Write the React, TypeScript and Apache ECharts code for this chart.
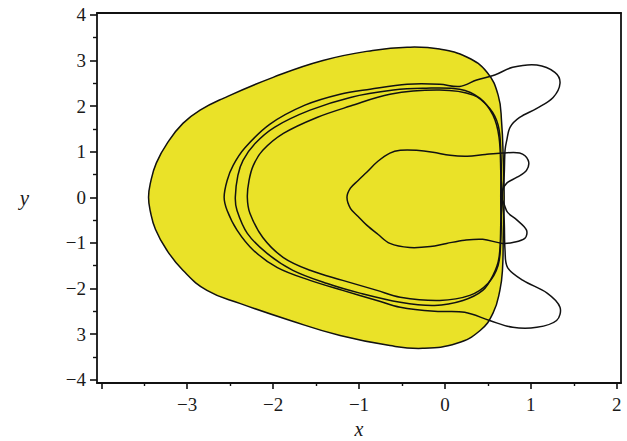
import React, { useEffect, useRef } from "react";
import * as echarts from "echarts";

// ---- axis ticks / labels ----
const xMajorTicks = [-4, -3, -2, -1, 0, 1, 2];
const xMinorTicks = [-3.5, -2.5, -1.5, -0.5, 0.5, 1.5];
const xTickLabels = [-3, -2, -1, 0, 1, 2];
const yMajorTicks = [-4, -3, -2, -1, 0, 1, 2, 3, 4];
const yMinorTicks = [-3.5, -2.5, -1.5, -0.5, 0.5, 1.5, 2.5, 3.5];
const yTickTexts = ["−4", "3", "−2", "−1", "0", "1", "2", "3", "4"];

// ---- yellow region boundary (closed) ----
const fillBoundary: number[][] = [
  [-3.45, 0], [-3.43, 0.3], [-3.36, 0.75], [-3.22, 1.22], [-3.05, 1.62], [-2.85, 1.91],
  [-2.58, 2.17], [-2.0, 2.63], [-1.42, 3.0], [-0.84, 3.22], [-0.44, 3.29], [-0.06, 3.25],
  [0.26, 3.07], [0.49, 2.74], [0.62, 2.24], [0.66, 1.65], [0.68, 0.8], [0.69, 0],
  [0.68, -0.8], [0.67, -1.6], [0.64, -2.04], [0.56, -2.54], [0.41, -2.92], [0.14, -3.2],
  [-0.26, -3.31], [-0.64, -3.25], [-1.22, -3.03], [-1.8, -2.7], [-2.38, -2.33],
  [-2.77, -2.04], [-3.05, -1.6], [-3.24, -1.15], [-3.37, -0.7], [-3.43, -0.3],
];

// ---- black curves (closed loops) ----
const loopOuter: number[][] = [
  [-2.57, 0], [-2.535, 0.37], [-2.465, 0.7], [-2.33, 1.08], [-2.04, 1.6], [-1.63, 2.02],
  [-1.22, 2.26], [-0.87, 2.37], [-0.44, 2.48], [-0.06, 2.48], [0.17, 2.43], [0.37, 2.57],
  [0.58, 2.68], [0.79, 2.85], [1.07, 2.9], [1.28, 2.74], [1.34, 2.5], [1.26, 2.19],
  [1.07, 1.95], [0.87, 1.75], [0.76, 1.54], [0.72, 1.25], [0.7, 1.03], [0.69, 0.48],
  [0.67, 0], [0.69, -0.5], [0.7, -1.16], [0.73, -1.54], [0.91, -1.82], [1.19, -2.1],
  [1.34, -2.41], [1.3, -2.7], [1.07, -2.85], [0.79, -2.85], [0.52, -2.7], [0.23, -2.52],
  [-0.12, -2.5], [-0.52, -2.41], [-0.79, -2.26], [-1.19, -2.04], [-1.57, -1.82],
  [-1.95, -1.54], [-2.23, -1.16], [-2.42, -0.72], [-2.535, -0.29],
];
const loopMiddle: number[][] = [
  [-2.44, 0], [-2.41, 0.48], [-2.35, 0.81], [-2.21, 1.18], [-1.98, 1.54], [-1.57, 1.91],
  [-1.1, 2.19], [-0.6, 2.35], [-0.26, 2.39], [0.17, 2.37], [0.41, 2.17], [0.56, 1.8],
  [0.63, 1.32], [0.65, 0.59], [0.65, 0], [0.65, -0.61], [0.63, -1.32], [0.56, -1.71],
  [0.44, -2.04], [0.21, -2.26], [-0.12, -2.37], [-0.52, -2.3], [-0.99, -2.1],
  [-1.37, -1.89], [-1.77, -1.6], [-2.07, -1.23], [-2.3, -0.79], [-2.42, -0.29],
];
const loopInner: number[][] = [
  [-2.3, 0], [-2.28, 0.37], [-2.23, 0.7], [-2.12, 1.03], [-1.88, 1.4], [-1.49, 1.75],
  [-1.1, 2.0], [-0.64, 2.26], [-0.06, 2.35], [0.33, 2.24], [0.52, 1.95], [0.62, 1.58],
  [0.65, 1.03], [0.66, 0], [0.65, -0.94], [0.62, -1.49], [0.5, -1.89], [0.29, -2.15],
  [-0.06, -2.26], [-0.52, -2.19], [-0.79, -2.04], [-1.19, -1.82], [-1.57, -1.6],
  [-1.88, -1.32], [-2.12, -0.88], [-2.27, -0.35],
];
const loopBean: number[][] = [
  [-1.14, 0], [-1.1, 0.2], [-1.01, 0.37], [-0.91, 0.55], [-0.78, 0.79], [-0.64, 0.97],
  [-0.52, 1.03], [-0.33, 1.03], [-0.14, 0.99], [0.06, 0.92], [0.26, 0.9], [0.47, 0.94],
  [0.67, 0.97], [0.87, 0.97], [0.97, 0.81], [0.95, 0.59], [0.84, 0.44], [0.72, 0.31],
  [0.67, 0.15], [0.66, 0], [0.69, -0.15], [0.73, -0.33], [0.84, -0.5], [0.95, -0.72],
  [0.93, -0.9], [0.79, -0.99], [0.67, -1.01], [0.44, -0.92], [0.23, -0.94],
  [0.02, -1.01], [-0.17, -1.08], [-0.41, -1.1], [-0.64, -1.01], [-0.78, -0.81],
  [-0.91, -0.61], [-1.01, -0.42], [-1.1, -0.24],
];

const YELLOW = "#EAE228";
const INK = "#111111";
const FONT = "'Liberation Serif', 'Times New Roman', serif";

function loopSeries(name: string, pts: number[][], fill: string | null, z: number, smooth: number) {
  return {
    type: "custom",
    name,
    xAxisIndex: 0,
    yAxisIndex: 0,
    z,
    data: [pts[0]],
    renderItem: (params: any, api: any) => {
      const points = pts.map((p) => api.coord(p));
      return {
        type: "polygon",
        shape: { points, smooth },
        style: { fill: fill || "none", stroke: INK, lineWidth: 1.5 },
      };
    },
  };
}

function fmt(v: number) {
  return v < 0 ? "−" + Math.abs(v) : String(v);
}

export default function App() {
  const ref = useRef<HTMLDivElement>(null);
  useEffect(() => {
    if (!ref.current) return;
    const chart = echarts.init(ref.current, undefined, { renderer: "svg" });
    const xMin = -4.05, xMax = 2.05, yMin = -4.07, yMax = 4.04;
    const lineStyle = { color: INK, width: 1.8 };
    const labelStyle = { color: "#1a1a1a", fontFamily: FONT, fontSize: 19 };
    chart.setOption({
      animation: false,
      backgroundColor: "#ffffff",
      grid: { left: 97, right: 6, top: 13, bottom: 58, containLabel: false, outerBoundsMode: "none" },
      xAxis: [
        {
          type: "value", min: xMin, max: xMax, position: "bottom",
          axisLine: { show: true, onZero: false, lineStyle },
          axisTick: { show: true, length: 6, customValues: xMajorTicks, lineStyle: { color: INK, width: 1.6 } },
          axisLabel: { show: true, customValues: xTickLabels, formatter: fmt, margin: 12, ...labelStyle },
          splitLine: { show: false },
          name: "x", nameLocation: "middle", nameGap: 34,
          nameTextStyle: { fontFamily: FONT, fontStyle: "italic", fontSize: 20, color: "#1a1a1a" },
        },
        {
          type: "value", min: xMin, max: xMax, position: "bottom",
          axisLine: { show: false, onZero: false },
          axisTick: { show: true, length: 3, customValues: xMinorTicks, lineStyle: { color: INK, width: 1.4 } },
          axisLabel: { show: false },
          splitLine: { show: false },
        },
        {
          type: "value", min: xMin, max: xMax, position: "top",
          axisLine: { show: true, onZero: false, lineStyle },
          axisTick: { show: false }, axisLabel: { show: false }, splitLine: { show: false },
        },
      ],
      yAxis: [
        {
          type: "value", min: yMin, max: yMax, position: "left",
          axisLine: { show: true, onZero: false, lineStyle },
          axisTick: { show: true, length: 7, customValues: yMajorTicks, lineStyle: { color: INK, width: 1.6 } },
          axisLabel: {
            show: true, customValues: yMajorTicks, margin: 11,
            formatter: (v: number) => yTickTexts[yMajorTicks.indexOf(Math.round(v))] ?? fmt(v),
            ...labelStyle,
          },
          splitLine: { show: false },
          name: "y", nameLocation: "middle", nameGap: 68, nameRotate: 0,
          nameTextStyle: { fontFamily: FONT, fontStyle: "italic", fontSize: 21, color: "#1a1a1a" },
        },
        {
          type: "value", min: yMin, max: yMax, position: "left",
          axisLine: { show: false, onZero: false },
          axisTick: { show: true, length: 4, customValues: yMinorTicks, lineStyle: { color: INK, width: 1.4 } },
          axisLabel: { show: false },
          splitLine: { show: false },
        },
        {
          type: "value", min: yMin, max: yMax, position: "right",
          axisLine: { show: true, onZero: false, lineStyle },
          axisTick: { show: false }, axisLabel: { show: false }, splitLine: { show: false },
        },
      ],
      series: [
        loopSeries("region", fillBoundary, YELLOW, 1, 0.45),
        loopSeries("outer", loopOuter, null, 2, 0.35),
        loopSeries("middle", loopMiddle, null, 2, 0.35),
        loopSeries("inner", loopInner, null, 2, 0.35),
        loopSeries("bean", loopBean, null, 2, 0.35),
      ],
    });
    return () => chart.dispose();
  }, []);
  return (
    <div
      ref={ref}
      style={{ position: "fixed", left: 0, top: 0, width: 627, height: 441, background: "#fff" }}
    />
  );
}
